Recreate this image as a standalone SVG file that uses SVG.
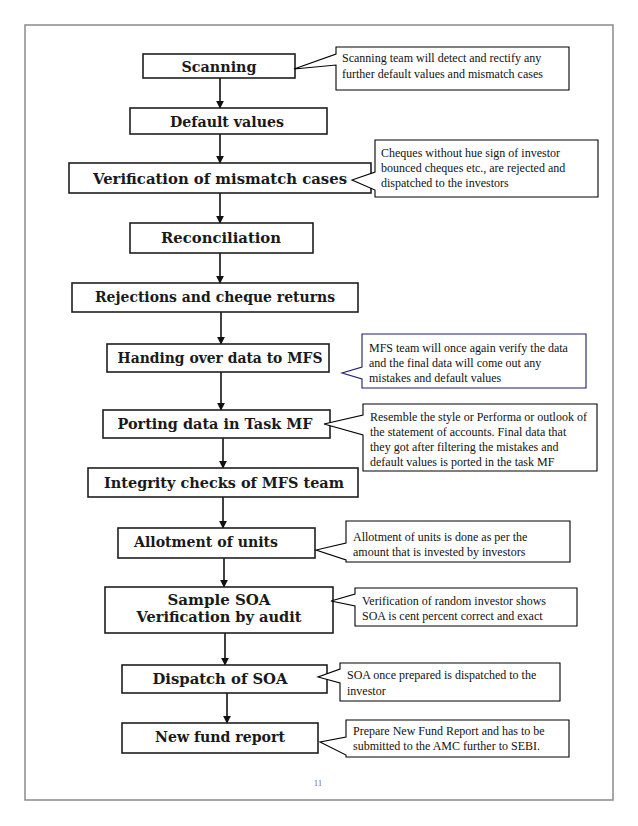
<svg xmlns="http://www.w3.org/2000/svg" width="638" height="826" viewBox="0 0 638 826">
<defs>
<style>
.pg{fill:#fff;stroke:#8a8a8a;stroke-width:1.5}
.bx{fill:#fff;stroke:#1e1e1e;stroke-width:1.6}
.bt{font-family:"DejaVu Serif","Liberation Serif",serif;font-weight:bold;font-size:14px;fill:#1a1a1a;text-anchor:middle}
.co{fill:#fff;stroke:#000;stroke-width:1.1}
.cb{fill:#fff;stroke:#1c1c6e;stroke-width:1.1}
.ct{font-family:"Liberation Serif","Times New Roman",serif;font-size:12px;fill:#111}
.ar{stroke:#111;stroke-width:1.6;fill:none;marker-end:url(#ah)}
</style>
<marker id="ah" viewBox="0 0 10 10" refX="9" refY="5" markerWidth="5" markerHeight="5" orient="auto" markerUnits="strokeWidth">
<path d="M0,0 L10,5 L0,10 Z" fill="#111"/>
</marker>
</defs>
<rect width="638" height="826" fill="#fff"/>
<rect class="pg" x="25" y="25" width="588" height="775"/>

<g id="connectors">
<line class="ar" x1="220" y1="78" x2="220" y2="108"/>
<line class="ar" x1="220" y1="134" x2="220" y2="163"/>
<line class="ar" x1="220" y1="193" x2="220" y2="223"/>
<line class="ar" x1="220" y1="253" x2="220" y2="283"/>
<line class="ar" x1="221" y1="312" x2="221" y2="344"/>
<line class="ar" x1="221" y1="372" x2="221" y2="410"/>
<line class="ar" x1="223" y1="438" x2="223" y2="468"/>
<line class="ar" x1="223" y1="497" x2="223" y2="528"/>
<line class="ar" x1="224" y1="558" x2="224" y2="587"/>
<line class="ar" x1="225" y1="633" x2="225" y2="665"/>
<line class="ar" x1="227" y1="693" x2="227" y2="723"/>
</g>

<g id="n1"><rect class="bx" x="143" y="54" width="152" height="24"/><text class="bt" x="219" y="72" textLength="75" lengthAdjust="spacingAndGlyphs">Scanning</text></g>
<g id="n2"><rect class="bx" x="130" y="108" width="197" height="26"/><text class="bt" x="227" y="127" textLength="114" lengthAdjust="spacingAndGlyphs">Default values</text></g>
<g id="n3"><rect class="bx" x="69" y="163" width="302" height="30"/><text class="bt" x="220" y="184" textLength="254" lengthAdjust="spacingAndGlyphs">Verification of mismatch cases</text></g>
<g id="n4"><rect class="bx" x="130" y="223" width="183" height="30"/><text class="bt" x="221" y="243" textLength="120" lengthAdjust="spacingAndGlyphs">Reconciliation</text></g>
<g id="n5"><rect class="bx" x="72" y="283" width="286" height="29"/><text class="bt" x="215" y="302" textLength="240" lengthAdjust="spacingAndGlyphs">Rejections and cheque returns</text></g>
<g id="n6"><rect class="bx" x="107" y="344" width="222" height="28"/><text class="bt" x="220" y="363" textLength="205" lengthAdjust="spacingAndGlyphs">Handing over data to MFS</text></g>
<g id="n7"><rect class="bx" x="103" y="410" width="227" height="28"/><text class="bt" x="215" y="429" textLength="195" lengthAdjust="spacingAndGlyphs">Porting data in Task MF</text></g>
<g id="n8"><rect class="bx" x="88" y="468" width="270" height="29"/><text class="bt" x="224" y="488" textLength="240" lengthAdjust="spacingAndGlyphs">Integrity checks of MFS team</text></g>
<g id="n9"><rect class="bx" x="118" y="528" width="197" height="30"/><text class="bt" x="206" y="547" textLength="144" lengthAdjust="spacingAndGlyphs">Allotment of units</text></g>
<g id="n10"><rect class="bx" x="105" y="587" width="228" height="46"/><text class="bt" x="219" y="605" textLength="103" lengthAdjust="spacingAndGlyphs">Sample SOA</text><text class="bt" x="219" y="622" textLength="165" lengthAdjust="spacingAndGlyphs">Verification by audit</text></g>
<g id="n11"><rect class="bx" x="122" y="665" width="205" height="28"/><text class="bt" x="220" y="684" textLength="135" lengthAdjust="spacingAndGlyphs">Dispatch of SOA</text></g>
<g id="n12"><rect class="bx" x="122" y="723" width="196" height="30"/><text class="bt" x="220" y="742" textLength="130" lengthAdjust="spacingAndGlyphs">New fund report</text></g>

<g id="c1"><path class="co" d="M336,47 H569 V90 H336 V65 L294,69 L336,54 Z"/>
<text class="ct" x="342" y="62">Scanning team will detect and rectify any</text>
<text class="ct" x="342" y="78">further default values and mismatch cases</text></g>

<g id="c2"><path class="co" d="M375,140 H598 V197 H375 V190 L352,180 L375,172 Z"/>
<text class="ct" x="381" y="157">Cheques without hue sign of investor</text>
<text class="ct" x="381" y="172">bounced cheques etc., are rejected and</text>
<text class="ct" x="381" y="187">dispatched to the investors</text></g>

<g id="c3"><path class="cb" d="M362,334 H586 V388 H362 V379 L342,373 L362,367 Z"/>
<text class="ct" x="369" y="352">MFS team will once again verify the data</text>
<text class="ct" x="369" y="367">and the final data will come out any</text>
<text class="ct" x="369" y="382">mistakes and default values</text></g>

<g id="c4"><path class="co" d="M363,404 H597 V471 H363 V435 L324,424 L363,415 Z"/>
<text class="ct" x="370" y="421">Resemble the style or Performa or outlook of</text>
<text class="ct" x="370" y="436">the statement of accounts. Final data that</text>
<text class="ct" x="370" y="451">they got after filtering the mistakes and</text>
<text class="ct" x="370" y="466">default values is ported in the task MF</text></g>

<g id="c5"><path class="co" d="M346,521 H570 V562 H346 V560 L316,550 L346,543 Z"/>
<text class="ct" x="353" y="541">Allotment of units is done as per the</text>
<text class="ct" x="353" y="556">amount that is invested by investors</text></g>

<g id="c6"><path class="co" d="M355,588 H577 V626 H355 V606 L331,601 L355,594 Z"/>
<text class="ct" x="362" y="605">Verification of random investor shows</text>
<text class="ct" x="362" y="620">SOA is cent percent correct and exact</text></g>

<g id="c7"><path class="co" d="M340,663 H560 V701 H340 V683 L318,677 L340,669 Z"/>
<text class="ct" x="347" y="679">SOA once prepared is dispatched to the</text>
<text class="ct" x="347" y="695">investor</text></g>

<g id="c8"><path class="co" d="M346,720 H569 V757 H346 V755 L320,742 L346,737 Z"/>
<text class="ct" x="353" y="735">Prepare New Fund Report and has to be</text>
<text class="ct" x="353" y="750">submitted to the AMC further to SEBI.</text></g>

<text x="318" y="786" font-family="Liberation Serif, serif" font-size="9" fill="#777" text-anchor="middle">11</text>
</svg>
